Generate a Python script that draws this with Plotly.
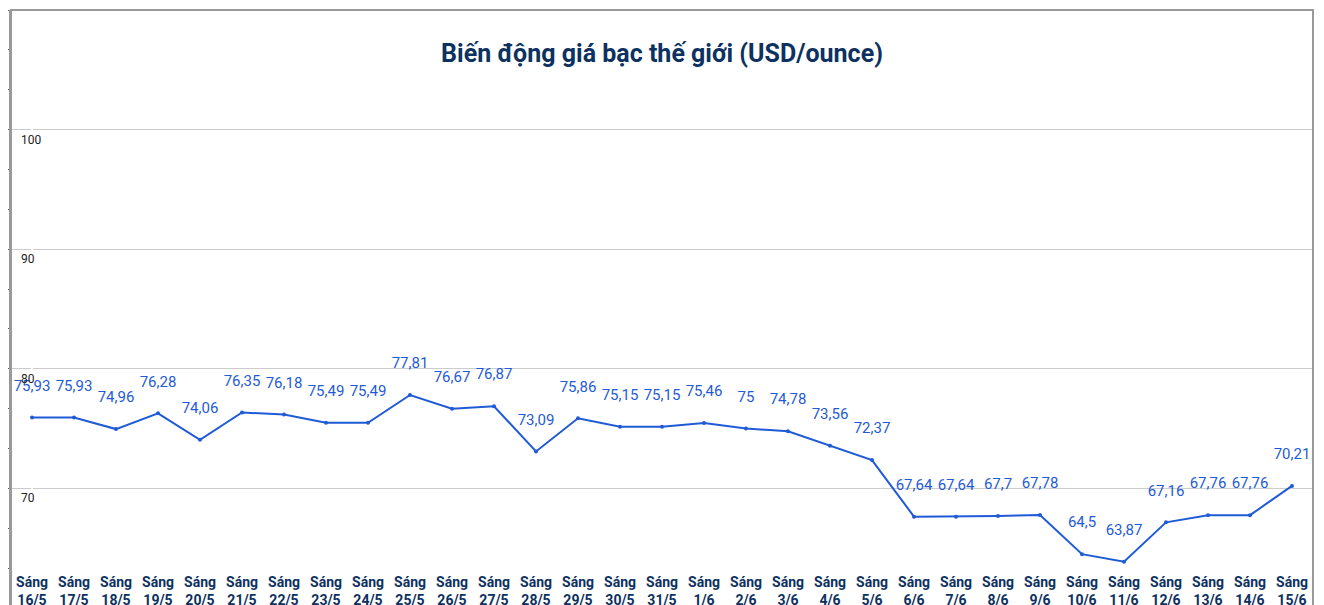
import plotly.graph_objects as go

days = ["16/5", "17/5", "18/5", "19/5", "20/5", "21/5", "22/5", "23/5", "24/5", "25/5",
        "26/5", "27/5", "28/5", "29/5", "30/5", "31/5", "1/6", "2/6", "3/6", "4/6",
        "5/6", "6/6", "7/6", "8/6", "9/6", "10/6", "11/6", "12/6", "13/6", "14/6", "15/6"]
prices = [75.93, 75.93, 74.96, 76.28, 74.06, 76.35, 76.18, 75.49, 75.49, 77.81,
          76.67, 76.87, 73.09, 75.86, 75.15, 75.15, 75.46, 75, 74.78, 73.56,
          72.37, 67.64, 67.64, 67.7, 67.78, 64.5, 63.87, 67.16, 67.76, 67.76, 70.21]
grid_vals = [70, 80, 90, 100]

labels = ["Sáng<br>" + d for d in days]
texts = [("%g" % p).replace(".", ",") + "<br> " for p in prices]

fig = go.Figure()
fig.add_trace(go.Scatter(
    x=list(range(len(prices))), y=prices, mode="lines+markers+text",
    text=texts, textposition="top center",
    textfont=dict(family="Roboto", size=15, color="#1f5bd6"),
    line=dict(color="#1f5bd6", width=2), marker=dict(size=4, color="#1f5bd6"),
    cliponaxis=False, hoverinfo="x+y",
))

for g in grid_vals:
    fig.add_annotation(x=0, xref="paper", y=g, yref="y", text=str(g), showarrow=False,
                       xanchor="left", yanchor="top", xshift=8, yshift=-1,
                       font=dict(family="Roboto", size=12, color="#222"))

fig.update_layout(
    autosize=True,
    margin=dict(l=3, r=3, t=2, b=3),
    plot_bgcolor="white", paper_bgcolor="white",
    showlegend=False,
    title=dict(text="<b>Biến động giá bạc thế giới (USD/ounce)</b>", x=0.5, y=0.94,
               xanchor="center", font=dict(family="Roboto", size=25, color="#0d3160")),
    xaxis=dict(tickmode="array", tickvals=list(range(len(prices))), ticktext=labels,
               range=[-0.5, len(prices) - 0.5], ticklabelposition="inside",
               tickfont=dict(family="Roboto", size=14, color="#0d3160", weight="bold"),
               ticks="outside", ticklen=3, tickcolor="#555", showgrid=False,
               showline=True, linecolor="#999", linewidth=2),
    yaxis=dict(range=[60, 110], tickvals=grid_vals, showticklabels=False,
               showgrid=True, gridcolor="#cccccc", ticks="", zeroline=False,
               showline=True, linecolor="#999", linewidth=2,
               minor=dict(tickmode="linear", tick0=60, dtick=10 / 3, ticks="outside",
                          ticklen=5, tickcolor="#555", showgrid=False)),
)
fig.update_layout(shapes=[dict(type="rect", xref="paper", yref="paper", x0=0, x1=1, y0=0, y1=1,
                               line=dict(color="#999", width=2))])

fig.write_html("out.html", config={"responsive": True},
               default_width="100%", default_height="100vh")
